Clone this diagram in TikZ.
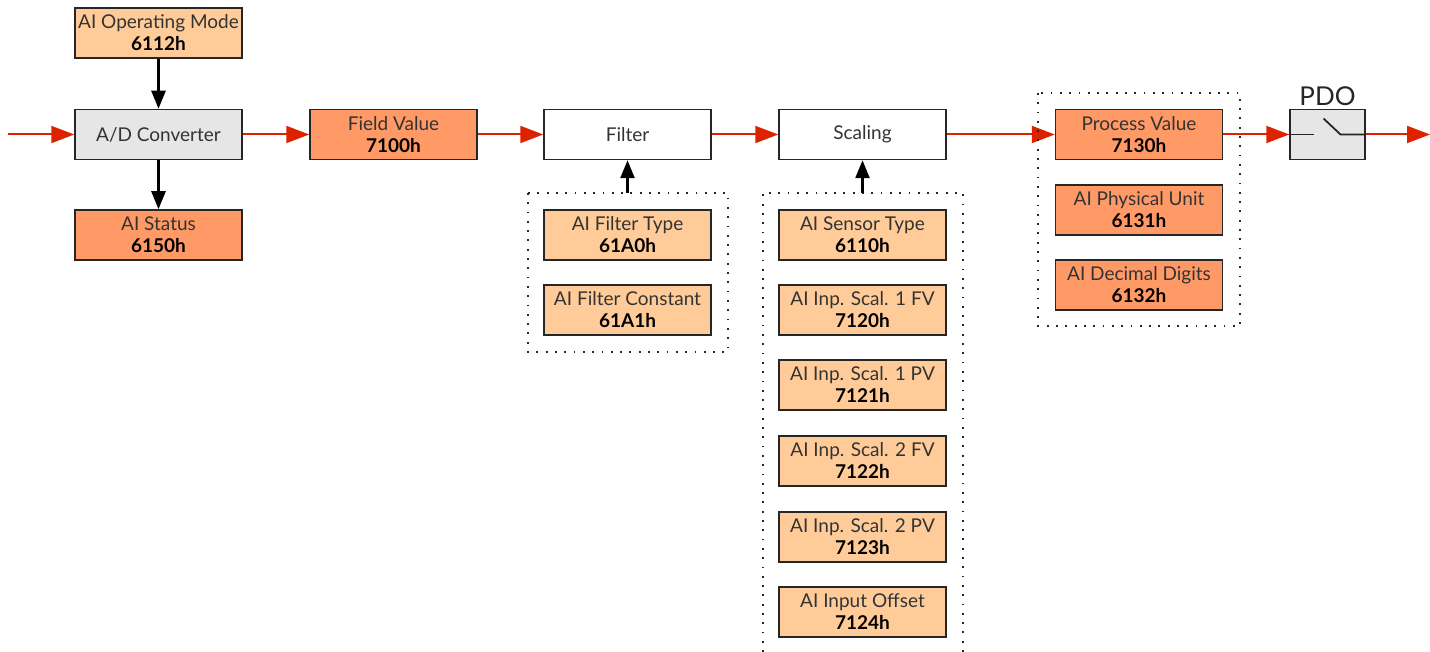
\documentclass[tikz,border=0pt]{standalone}
\usepackage{fontspec}
\setmainfont{Lato}
\usepackage{xcolor}
\usetikzlibrary{positioning,arrows.meta}
\definecolor{paramfill}{HTML}{FFCC99}
\definecolor{valuefill}{HTML}{FF9966}
\definecolor{convfill}{HTML}{E6E6E6}
\definecolor{flowred}{HTML}{DD2200}

\begin{document}
\begin{tikzpicture}[x=1pt,y=-1pt,
    box/.style={draw=black!85, line width=1.5pt, minimum width=167pt, minimum height=50pt,
        inner sep=0pt, align=center, text=black!80, font=\fontsize{19}{22}\selectfont},
    param/.style={box, fill=paramfill},
    value/.style={box, fill=valuefill},
    func/.style={box, fill=white},
    flow/.style={draw=flowred, line width=2pt, -{Triangle[length=23pt,width=17pt]}},
    link/.style={draw=black, line width=2.5pt, -{Triangle[length=18pt,width=14pt]}},
    group/.style={draw=black!85, line width=1.8pt, dash pattern=on 1.8pt off 7.5pt}]
    \useasboundingbox (0,0) rectangle (1430,652);

    % A/D converter column
    \node[param] (opmode) at (158.5,33) {AI Operating Mode\\\textcolor{black}{\textbf{6112h}}};
    \node[box, fill=convfill] (adc) at (158.5,134.5) {A/D Converter};
    \node[value] (status) at (158.5,235) {AI Status\\\textcolor{black}{\textbf{6150h}}};
    \draw[link] (opmode) -- (adc);
    \draw[link] (adc) -- (status);

    % Main chain
    \node[value] (field) at (393.5,134.5) {Field Value\\\textcolor{black}{\textbf{7100h}}};
    \node[func] (filter) at (627.5,134.5) {Filter};
    \node[func] (scaling) at (862.5,134.5) {Scaling};
    \node[value] (process) at (1139,134.5) {Process Value\\\textcolor{black}{\textbf{7130h}}};
    \node[draw=black!85, fill=convfill, line width=1.5pt, minimum width=75pt, minimum height=50pt,
        inner sep=0pt] (pdo) at (1327.5,134.5) {};
    \node[above=3pt of pdo, inner sep=0pt, text=black!85, font=\fontsize{26}{30}\selectfont] (pdolabel) {PDO};

    % Switch inside PDO
    \draw[black!85, line width=1.8pt] (pdo.west) -- ++(25,0);
    \draw[black!85, line width=1.8pt] ([xshift=-4pt,yshift=16pt]pdo.center) -- ([xshift=13pt]pdo.center) -- (pdo.east);

    \coordinate (input) at (8,134.5);
    \coordinate (output) at (1430,134.5);
    \draw[flow] (input) -- (adc);
    \draw[flow] (adc) -- (field);
    \draw[flow] (field) -- (filter);
    \draw[flow] (filter) -- (scaling);
    \draw[flow] (scaling) -- (process);
    \draw[flow] (process) -- (pdo);
    \draw[flow] (pdo) -- (output);

    % Filter parameters
    \node[param] (ftype) at (627.5,235) {AI Filter Type\\\textcolor{black}{\textbf{61A0h}}};
    \node[param] (fconst) at (627.5,310) {AI Filter Constant\\\textcolor{black}{\textbf{61A1h}}};
    \draw[group] (528,193) rectangle (728,352);
    \coordinate (filtergrp) at (627.5,193);
    \draw[link] (filtergrp) -- (filter);

    % Scaling parameters
    \node[param] (stype) at (862.5,235) {AI Sensor Type\\\textcolor{black}{\textbf{6110h}}};
    \node[param] (scal1fv) at (862.5,310) {AI Inp. Scal. 1 FV\\\textcolor{black}{\textbf{7120h}}};
    \node[param] (scal1pv) at (862.5,385) {AI Inp. Scal. 1 PV\\\textcolor{black}{\textbf{7121h}}};
    \node[param] (scal2fv) at (862.5,461) {AI Inp. Scal. 2 FV\\\textcolor{black}{\textbf{7122h}}};
    \node[param] (scal2pv) at (862.5,537) {AI Inp. Scal. 2 PV\\\textcolor{black}{\textbf{7123h}}};
    \node[param] (offset) at (862.5,612) {AI Input Offset\\\textcolor{black}{\textbf{7124h}}};
    \draw[group] (763,652) -- (763,193) -- (963,193) -- (963,652);
    \coordinate (scalegrp) at (862.5,193);
    \draw[link] (scalegrp) -- (scaling);

    % Process value group
    \node[value] (unit) at (1139,210) {AI Physical Unit\\\textcolor{black}{\textbf{6131h}}};
    \node[value] (digits) at (1139,285) {AI Decimal Digits\\\textcolor{black}{\textbf{6132h}}};
    \draw[group] (1038,93) rectangle (1240,326);
\end{tikzpicture}
\end{document}
